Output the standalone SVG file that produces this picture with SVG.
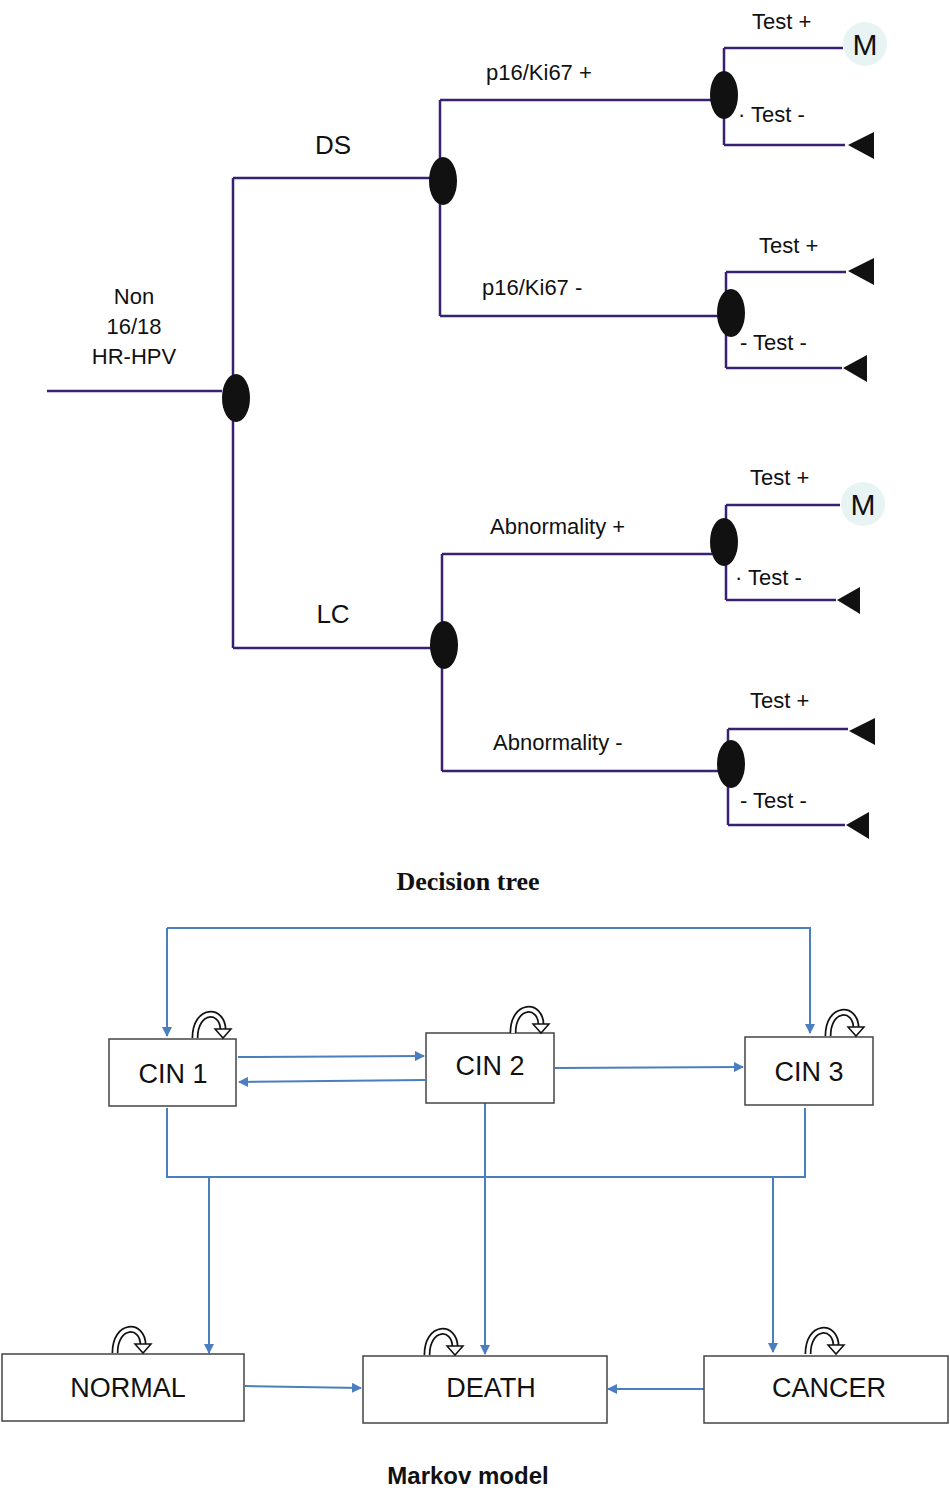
<svg xmlns="http://www.w3.org/2000/svg" xmlns:xlink="http://www.w3.org/1999/xlink" width="950" height="1490" viewBox="0 0 950 1490">
<style>
.t{stroke:#3a2070;stroke-width:2.5;fill:none}
.nd{fill:#111}
.tri{fill:#111}
.m{fill:#e8f4f4}
text{font-family:"Liberation Sans",Arial,sans-serif;font-size:22px;fill:#111}
.c{stroke:#4a7ebf;stroke-width:2;fill:none}
.box{fill:#fff;stroke:#444;stroke-width:1.5}
.bl{font-size:27px}
.big{font-size:30px}
.dl{font-size:26px}
</style>
<defs>
<marker id="a" markerWidth="10" markerHeight="10" refX="9" refY="5" orient="auto" markerUnits="userSpaceOnUse" viewBox="0 0 10 10"><path d="M0,0L10,5L0,10z" fill="#4a7ebf"/></marker>
<g id="loop">
<path d="M0,0 C0,-30 28,-30 28,-8" stroke="#111" stroke-width="7" fill="none"/>
<path d="M0,0 C0,-30 28,-30 28,-8" stroke="#fff" stroke-width="3.5" fill="none"/>
<path d="M20,-9 L36,-9 L28,0 z" fill="#fff" stroke="#111" stroke-width="1.5"/>
</g>
</defs>
<g id="tree-connectors">
<path class="t" d="M47,391H222M233,178V648M233,178H430M440,100V316M440,100H712M724,48V145M724,48H843M724,145H845M440,316H718M726,272V368M726,272H846M726,368H842M233,648H432M442,554V771M442,554H712M726,505V600M726,505H840M726,600H836M442,771H718M728,729V825M728,729H848M728,825H845"/>
</g>
<g id="tree-nodes">
<ellipse class="nd" cx="236" cy="398" rx="14" ry="24"/>
<ellipse class="nd" cx="443" cy="181" rx="14" ry="24"/>
<ellipse class="nd" cx="724" cy="95" rx="14" ry="24"/>
<ellipse class="nd" cx="731" cy="313" rx="14" ry="24"/>
<ellipse class="nd" cx="444" cy="645" rx="14" ry="24"/>
<ellipse class="nd" cx="724" cy="542" rx="14" ry="24"/>
<ellipse class="nd" cx="731" cy="764" rx="14" ry="24"/>
<circle class="m" cx="865" cy="44" r="22"/><text class="big" x="865" y="55" text-anchor="middle">M</text>
<circle class="m" cx="863" cy="504" r="22"/><text class="big" x="863" y="515" text-anchor="middle">M</text>
<path class="tri" d="M848,145L874,132V159z"/>
<path class="tri" d="M848,271L874,258V285z"/>
<path class="tri" d="M843,368L867,355V382z"/>
<path class="tri" d="M837,600L860,587V614z"/>
<path class="tri" d="M849,731L875,718V745z"/>
<path class="tri" d="M846,825L869,812V839z"/>
</g>
<g id="tree-labels">
<text x="134" y="304" text-anchor="middle">Non</text>
<text x="134" y="334" text-anchor="middle">16/18</text>
<text x="134" y="364" text-anchor="middle">HR-HPV</text>
<text class="dl" x="333" y="154" text-anchor="middle">DS</text>
<text class="dl" x="333" y="623" text-anchor="middle">LC</text>
<text x="486" y="80">p16/Ki67 +</text>
<text x="482" y="295">p16/Ki67 -</text>
<text x="490" y="534">Abnormality  +</text>
<text x="493" y="750">Abnormality  -</text>
<text x="752" y="29">Test +</text>
<text x="738" y="122">·  Test -</text>
<text x="759" y="253">Test +</text>
<text x="740" y="350">-  Test -</text>
<text x="750" y="485">Test +</text>
<text x="735" y="585">·  Test -</text>
<text x="750" y="708">Test +</text>
<text x="740" y="808">-  Test -</text>
<text x="468" y="890" text-anchor="middle" style="font-family:'Liberation Serif',serif;font-weight:bold;font-size:26px">Decision tree</text>
</g>
<g id="markov-connectors">
<path class="c" d="M167,928V1036" marker-end="url(#a)"/>
<path class="c" d="M167,928H810V1033" marker-end="url(#a)"/>
<path class="c" d="M238,1057L424,1056" marker-end="url(#a)"/>
<path class="c" d="M425,1080L239,1082" marker-end="url(#a)"/>
<path class="c" d="M555,1068L743,1067" marker-end="url(#a)"/>
<path class="c" d="M167,1108V1177H805V1108"/>
<path class="c" d="M209,1177V1353" marker-end="url(#a)"/>
<path class="c" d="M485,1103V1354" marker-end="url(#a)"/>
<path class="c" d="M773,1177V1352" marker-end="url(#a)"/>
<path class="c" d="M245,1386L361,1388" marker-end="url(#a)"/>
<path class="c" d="M704,1389H608" marker-end="url(#a)"/>
</g>
<g id="cin1"><rect class="box" x="109" y="1039" width="127" height="67"/><text class="bl" x="173" y="1083" text-anchor="middle">CIN 1</text><use xlink:href="#loop" x="195" y="1038"/></g>
<g id="cin2"><rect class="box" x="426" y="1033" width="128" height="70"/><text class="bl" x="490" y="1075" text-anchor="middle">CIN 2</text><use xlink:href="#loop" x="513" y="1033"/></g>
<g id="cin3"><rect class="box" x="745" y="1037" width="128" height="68"/><text class="bl" x="809" y="1081" text-anchor="middle">CIN 3</text><use xlink:href="#loop" x="828" y="1036"/></g>
<g id="normal"><rect class="box" x="2" y="1354" width="242" height="67"/><text class="bl" x="128" y="1397" text-anchor="middle">NORMAL</text><use xlink:href="#loop" x="115" y="1353"/></g>
<g id="death"><rect class="box" x="363" y="1356" width="244" height="67"/><text class="bl" x="491" y="1397" text-anchor="middle">DEATH</text><use xlink:href="#loop" x="427" y="1355"/></g>
<g id="cancer"><rect class="box" x="704" y="1356" width="244" height="67"/><text class="bl" x="829" y="1397" text-anchor="middle">CANCER</text><use xlink:href="#loop" x="808" y="1354"/></g>
<text x="468" y="1484" text-anchor="middle" style="font-weight:bold;font-size:24px">Markov model</text>
</svg>
